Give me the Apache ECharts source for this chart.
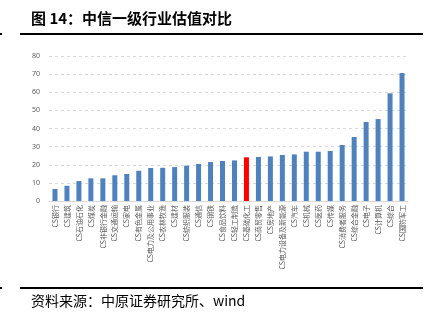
<!DOCTYPE html>
<html><head><meta charset="utf-8">
<script src="https://cdn.jsdelivr.net/npm/echarts@6/dist/echarts.min.js"></script>
<style>html,body{margin:0;padding:0;background:#fff}#c{width:444px;height:325px}</style>
</head><body><div id="c"></div>
<script>
var categories = ['CS银行','CS建筑','CS石油石化','CS煤炭','CS非银行金融','CS交通运输','CS家电','CS有色金属','CS电力及公用事业','CS农林牧渔','CS建材','CS纺织服装','CS通信','CS钢铁','CS食品饮料','CS轻工制造','CS基础化工','CS商贸零售','CS房地产','CS电力设备及新能源','CS汽车','CS机械','CS医药','CS传媒','CS消费者服务','CS综合金融','CS电子','CS计算机','CS综合','CS国防军工'];
var values = [6.6,8.4,11.0,12.5,12.5,14.2,14.9,16.7,18.2,18.3,18.7,19.5,20.4,21.5,22.1,22.4,24.1,24.3,24.6,25.4,25.7,27.2,27.2,27.6,30.9,35.3,43.6,45.2,59.4,70.6];
var highlight = 'CS基础化工';
var titleText = '图 14：中信一级行业估值对比';
var sourceText = '资料来源：中原证券研究所、wind';

var chart = echarts.init(document.getElementById('c'), null, {renderer:'canvas'});
chart.setOption({
  animation:false,
  grid:{left:49,right:36,top:56,bottom:124},
  xAxis:{type:'category',data:categories,
    axisLine:{lineStyle:{color:'#d9d9d9'}},axisTick:{show:false},
    axisLabel:{rotate:90,interval:0,fontSize:7,color:'#595959',fontFamily:'Noto Sans CJK SC',margin:4}},
  yAxis:{type:'value',min:0,max:80,interval:10,
    axisLine:{show:false},axisTick:{show:false},
    splitLine:{lineStyle:{color:'#d9d9d9',type:[3,3]}},
    axisLabel:{fontSize:7,color:'#595959',margin:9,fontFamily:'Noto Sans'}},
  series:[{type:'bar',barWidth:5,
    data:values.map(function(v,i){return {value:v,itemStyle:{color:categories[i]===highlight?'#ff0000':'#4f81bd'}};})}],
  graphic:[
    {type:'text',left:31,top:11,style:{text:titleText,font:'bold 15px "Noto Sans CJK SC"',fill:'#000'}},
    {type:'line',shape:{x1:20,y1:34,x2:423,y2:34},style:{stroke:'#000',lineWidth:2}},
    {type:'rect',shape:{x:0,y:33,width:2,height:2},style:{fill:'#000'}},
    {type:'line',shape:{x1:20,y1:288,x2:423,y2:288},style:{stroke:'#000',lineWidth:2}},
    {type:'rect',shape:{x:0,y:287,width:2,height:2},style:{fill:'#000'}},
    {type:'text',left:31,top:294,style:{text:sourceText,font:'14px "Noto Sans CJK SC"',fill:'#000'}}
  ]
});
</script></body></html>
